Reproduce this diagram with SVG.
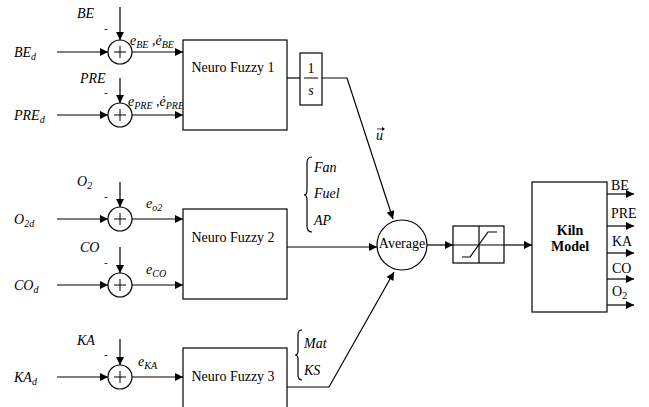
<svg xmlns="http://www.w3.org/2000/svg" width="649" height="407" viewBox="0 0 649 407">
<style>
.ln{stroke:#000;stroke-width:1.2;fill:none}
.bx{stroke:#000;stroke-width:1.2;fill:#fff}
.t{font-family:"Liberation Serif","DejaVu Serif","Times New Roman",serif;font-size:14px;fill:#000}
.i{font-family:"Liberation Serif","DejaVu Serif","Times New Roman",serif;font-style:italic;font-size:14px;fill:#000}
.s{font-size:10px}
.b{font-weight:bold}
.pl{stroke:#000;stroke-width:1}
.m{font-family:"Liberation Serif",serif;font-size:11px;fill:#000}
</style>
<defs>
<marker id="ar" viewBox="0 0 10 10" refX="10" refY="5" markerWidth="9" markerHeight="8" markerUnits="userSpaceOnUse" orient="auto"><path d="M0,0L10,5L0,10z" fill="#000"/></marker>
</defs>
<g id="connectors">
<line class="ln" x1="57" y1="52" x2="108" y2="52" marker-end="url(#ar)"/>
<line class="ln" x1="120" y1="7" x2="120" y2="40" marker-end="url(#ar)"/>
<line class="ln" x1="132" y1="52" x2="183" y2="52" marker-end="url(#ar)"/>
<line class="ln" x1="57" y1="115" x2="108" y2="115" marker-end="url(#ar)"/>
<line class="ln" x1="120" y1="78" x2="120" y2="103" marker-end="url(#ar)"/>
<line class="ln" x1="132" y1="115" x2="183" y2="115" marker-end="url(#ar)"/>
<line class="ln" x1="57" y1="219" x2="108" y2="219" marker-end="url(#ar)"/>
<line class="ln" x1="120" y1="182" x2="120" y2="207" marker-end="url(#ar)"/>
<line class="ln" x1="132" y1="219" x2="183" y2="219" marker-end="url(#ar)"/>
<line class="ln" x1="57" y1="285" x2="108" y2="285" marker-end="url(#ar)"/>
<line class="ln" x1="120" y1="247" x2="120" y2="273" marker-end="url(#ar)"/>
<line class="ln" x1="132" y1="285" x2="183" y2="285" marker-end="url(#ar)"/>
<line class="ln" x1="57" y1="377" x2="108" y2="377" marker-end="url(#ar)"/>
<line class="ln" x1="120" y1="339" x2="120" y2="365" marker-end="url(#ar)"/>
<line class="ln" x1="132" y1="377" x2="183" y2="377" marker-end="url(#ar)"/>
<line class="ln" x1="287" y1="78" x2="300" y2="78"/>
<polyline class="ln" points="322,78 347,78 393,219" marker-end="url(#ar)"/>
<line class="ln" x1="287" y1="247" x2="377" y2="247" marker-end="url(#ar)"/>
<polyline class="ln" points="287,387 329,387 394,272" marker-end="url(#ar)"/>
<line class="ln" x1="427" y1="245" x2="453" y2="245" marker-end="url(#ar)"/>
<line class="ln" x1="504" y1="245" x2="532" y2="245" marker-end="url(#ar)"/>
<line class="ln" x1="607" y1="194" x2="634" y2="194" marker-end="url(#ar)"/>
<line class="ln" x1="607" y1="226" x2="634" y2="226" marker-end="url(#ar)"/>
<line class="ln" x1="607" y1="253" x2="634" y2="253" marker-end="url(#ar)"/>
<line class="ln" x1="607" y1="279" x2="634" y2="279" marker-end="url(#ar)"/>
<line class="ln" x1="607" y1="305" x2="634" y2="305" marker-end="url(#ar)"/>
</g>
<g id="sum1"><circle class="bx" cx="120" cy="52" r="12"/><path class="pl" d="M114,52h12M120,46v12"/><text class="m" x="104" y="32">-</text></g>
<g id="sum2"><circle class="bx" cx="120" cy="115" r="12"/><path class="pl" d="M114,115h12M120,109v12"/><text class="m" x="104" y="96">-</text></g>
<g id="sum3"><circle class="bx" cx="120" cy="219" r="12"/><path class="pl" d="M114,219h12M120,213v12"/><text class="m" x="104" y="200">-</text></g>
<g id="sum4"><circle class="bx" cx="120" cy="285" r="12"/><path class="pl" d="M114,285h12M120,279v12"/><text class="m" x="104" y="266">-</text></g>
<g id="sum5"><circle class="bx" cx="120" cy="377" r="12"/><path class="pl" d="M114,377h12M120,371v12"/><text class="m" x="104" y="358">-</text></g>
<g id="labels">
<text class="i" x="77" y="18">BE</text>
<text class="i" x="14" y="57">BE<tspan class="s" dy="3">d</tspan></text>
<text class="i" x="130" y="45">e<tspan class="s" dy="3">BE</tspan><tspan dy="-3"> ,ė</tspan><tspan class="s" dy="3">BE</tspan></text>
<text class="i" x="80" y="83" font-size="13">PRE</text>
<text class="i" x="14" y="120">PRE<tspan class="s" dy="3">d</tspan></text>
<text class="i" x="128" y="106">e<tspan class="s" dy="3">PRE</tspan><tspan dy="-3"> ,ė</tspan><tspan class="s" dy="3">PRE</tspan></text>
<text class="i" x="77" y="186">O<tspan class="s" dy="3">2</tspan></text>
<text class="i" x="14" y="224">O<tspan class="s" dy="3">2d</tspan></text>
<text class="i" x="146" y="208">e<tspan class="s" dy="3">o2</tspan></text>
<text class="i" x="80" y="252">CO</text>
<text class="i" x="14" y="290">CO<tspan class="s" dy="3">d</tspan></text>
<text class="i" x="146" y="274">e<tspan class="s" dy="3">CO</tspan></text>
<text class="i" x="77" y="345">KA</text>
<text class="i" x="14" y="382">KA<tspan class="s" dy="3">d</tspan></text>
<text class="i" x="138" y="366">e<tspan class="s" dy="3">KA</tspan></text>
<text class="i" x="376" y="140">u</text>
<path d="M377,129h7" stroke="#000" stroke-width="0.8"/><path d="M385,129l-3,-2v4z" fill="#000"/>
<path class="ln" d="M312,157 Q307,157 307,163 L307,190 Q307,195 304,195 Q307,195 307,200 L307,226 Q307,232 312,232" stroke-width="0.9"/>
<text class="i" x="314" y="172">Fan</text>
<text class="i" x="314" y="198">Fuel</text>
<text class="i" x="314" y="225">AP</text>
<path class="ln" d="M302,330 Q298,330 298,335 L298,351 Q298,355 295,355 Q298,355 298,359 L298,375 Q298,380 302,380" stroke-width="0.9"/>
<text class="i" x="304" y="348">Mat</text>
<text class="i" x="304" y="375">KS</text>
</g>
<g id="nf1"><rect class="bx" x="183" y="40" width="104" height="90"/><text class="t" x="233" y="72" text-anchor="middle">Neuro Fuzzy 1</text></g>
<g id="integrator"><rect class="bx" x="300" y="53" width="22" height="52"/><text class="t" x="311" y="73" text-anchor="middle">1</text><line x1="304" y1="78" x2="318" y2="78" stroke="#000" stroke-width="1"/><text class="i" x="311" y="95" text-anchor="middle">s</text></g>
<g id="nf2"><rect class="bx" x="183" y="209" width="104" height="90"/><text class="t" x="233" y="242" text-anchor="middle">Neuro Fuzzy 2</text></g>
<g id="nf3"><rect class="bx" x="183" y="348" width="104" height="70"/><text class="t" x="233" y="381" text-anchor="middle">Neuro Fuzzy 3</text></g>
<g id="average"><circle class="bx" cx="402" cy="245" r="25"/><text class="t" x="402" y="248" text-anchor="middle" font-size="8">Average</text></g>
<g id="saturation"><rect class="bx" x="453" y="226" width="51" height="37"/><line class="ln" x1="479" y1="226" x2="479" y2="263"/><line class="ln" x1="453" y1="245" x2="504" y2="245"/><polyline class="ln" points="462,257 470,257 488,232 497,232"/></g>
<g id="kiln"><rect class="bx" x="532" y="182" width="75" height="130"/><text class="t b" x="570" y="235" text-anchor="middle">Kiln</text><text class="t b" x="570" y="251" text-anchor="middle">Model</text>
<text class="t" x="611" y="190">BE</text>
<text class="t" x="611" y="218">PRE</text>
<text class="t" x="612" y="246">KA</text>
<text class="t" x="612" y="273">CO</text>
<text class="t" x="612" y="296">O<tspan class="s" dy="3">2</tspan></text>
</g>
</svg>
